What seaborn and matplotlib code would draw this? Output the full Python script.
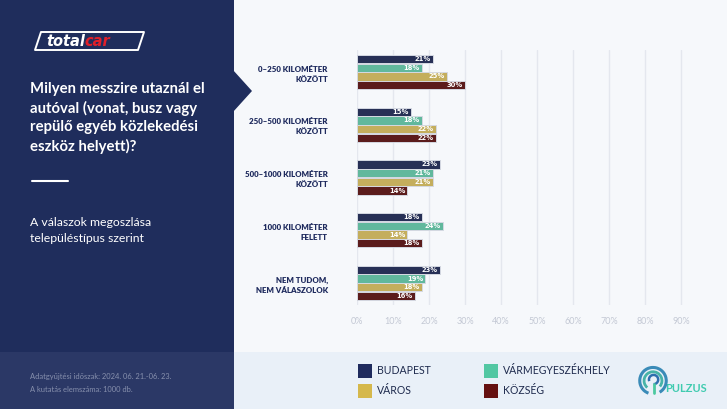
import matplotlib
matplotlib.use("Agg")
import matplotlib.pyplot as plt
import seaborn as sns
import pandas as pd
from matplotlib.patches import Rectangle, Polygon, Arc

# ---------------- data ----------------
categories = ["0–250 KILOMÉTER\nKÖZÖTT", "250–500 KILOMÉTER\nKÖZÖTT",
              "500–1000 KILOMÉTER\nKÖZÖTT", "1000 KILOMÉTER\nFELETT",
              "NEM TUDOM,\nNEM VÁLASZOLOK"]
series = ["BUDAPEST", "VÁRMEGYESZÉKHELY", "VÁROS", "KÖZSÉG"]
budapest = [21, 15, 23, 18, 23]
varmegye = [18, 18, 21, 24, 19]
varos = [25, 22, 21, 14, 18]
kozseg = [30, 22, 14, 18, 16]
xticks = [0, 10, 20, 30, 40, 50, 60, 70, 80, 90]
colors = ["#1f2b5e", "#52c7a3", "#d5b84c", "#661111"]

rows = []
for s, vals in zip(series, [budapest, varmegye, varos, kozseg]):
    for c, v in zip(categories, vals):
        rows.append({"cat": c, "series": s, "value": v})
df = pd.DataFrame(rows)

sns.set_theme(style="white")
plt.rcParams["font.family"] = ["Lato", "DejaVu Sans"]

W, H = 727, 409
fig = plt.figure(figsize=(W / 100, H / 100), dpi=100)
fig.patch.set_facecolor("#f6f8fb")

bg = fig.add_axes([0, 0, 1, 1], zorder=-1)
bg.set_xlim(0, W)
bg.set_ylim(H, 0)
bg.axis("off")

navy = "#1f2d5c"
bg.add_patch(Rectangle((234, 352), W - 234, H - 352, color="#e9f0f8", lw=0))
bg.add_patch(Rectangle((0, 0), 234, H, color=navy, lw=0))
bg.add_patch(Polygon([(233, 70), (252, 91), (233, 112)], closed=True, color=navy, lw=0))
bg.add_patch(Rectangle((0, 352), 234, H - 352, color="#2b3866", lw=0))

# totalcar logo
bg.add_patch(Polygon([(41, 32), (144, 32), (138, 50), (35, 50)], closed=True,
                     fill=False, ec="white", lw=1.4, joinstyle="round"))
t_total = bg.text(46, 41.5, "total", color="white", fontsize=10.5, fontstyle="italic",
                  fontweight="bold", va="center", ha="left", family=["DejaVu Sans"])
bg.annotate("car", xy=(1, 0.5), xycoords=t_total, color="#e0202a", fontsize=10.5,
            fontstyle="italic", fontweight="bold", va="center", ha="left",
            family=["DejaVu Sans"])

title_lines = ["Milyen messzire utaznál el", "autóval (vonat, busz vagy",
               "repülő egyéb közlekedési", "eszköz helyett)?"]
for i, t in enumerate(title_lines):
    bg.text(30, 89 + i * 19.2, t, color="white", fontsize=10.7, fontweight="bold",
            va="center", ha="left")
bg.plot([32, 68], [181, 181], color="white", lw=1.5)
bg.text(30, 222, "A válaszok megoszlása", color="white", fontsize=8.8, va="center", ha="left")
bg.text(30, 239, "településtípus szerint", color="white", fontsize=8.8, va="center", ha="left")
bg.text(30, 376, "Adatgyűjtési időszak: 2024. 06. 21.-06. 23.", color="#8790ad",
        fontsize=5.4, va="center", ha="left")
bg.text(30, 389, "A kutatás elemszáma: 1000 db.", color="#8790ad",
        fontsize=5.4, va="center", ha="left")

# legend
leg_pos = [(358, 371), (484, 371), (358, 391), (484, 391)]
leg_order = ["BUDAPEST", "VÁRMEGYESZÉKHELY", "VÁROS", "KÖZSÉG"]
for (x, y), name in zip(leg_pos, leg_order):
    col = colors[series.index(name)]
    bg.add_patch(Rectangle((x, y - 7), 14, 14, color=col, lw=0))
    bg.text(x + 19, y, name, color="#1f2b4e", fontsize=7.6, va="center", ha="left")

# pulzus logo
lg = fig.add_axes([638 / W, 1 - 398 / H, 30 / W, 34 / H], zorder=2)
lg.set_xlim(-1.3, 1.3)
lg.set_ylim(-1.5, 1.45)
lg.set_aspect("equal")
lg.axis("off")
lg.add_patch(Arc((0, 0), 2.3, 2.3, theta1=-60, theta2=250, color="#3a8bb8", lw=2.2))
lg.add_patch(Arc((0, 0), 1.55, 1.55, theta1=-40, theta2=230, color="#47b3a8", lw=2.0))
lg.add_patch(Arc((0.05, 0.1), 0.8, 0.8, theta1=-90, theta2=200, color="#2e6fae", lw=1.8))
lg.plot([0.05, 0.05], [-0.3, -1.1], color="#4cc9a0", lw=2.0)
bg.text(665, 389, "PULZUS", color="#40cbb0", fontsize=8, fontweight="bold",
        va="center", ha="left")

# ---------------- main chart ----------------
ax = fig.add_axes([357 / W, 1 - 305 / H, 360 / W, 255 / H])
ax.set_facecolor("none")
sns.barplot(data=df, y="cat", x="value", hue="series", hue_order=series,
            palette=colors, orient="h", width=0.66, gap=0.06, ax=ax,
            edgecolor="#d5d9e2", linewidth=0.7, legend=False, errorbar=None)
ax.set_xlim(0, 100)
ax.set_ylim(4.42, -0.42)
ax.set_xticks(xticks)
ax.set_xticklabels([f"{t}%" for t in xticks], color="#c3c8d4", fontsize=6.5)
ax.set_xlabel("")
ax.set_ylabel("")
ax.grid(axis="x", color="#e4e7ee", lw=1)
ax.set_axisbelow(True)
for sp in ax.spines.values():
    sp.set_visible(False)
ax.tick_params(axis="x", length=0, pad=9)
ax.tick_params(axis="y", length=0, pad=21)
for lbl in ax.get_yticklabels():
    lbl.set_fontweight("heavy")
    lbl.set_fontsize(5.7)
    lbl.set_color("#1f2b5e")
    lbl.set_linespacing(1.5)

for cont in ax.containers:
    for bar in cont:
        w = bar.get_width()
        yc = bar.get_y() + bar.get_height() / 2
        ax.text(w - 0.6, yc, f"{w:.0f}%", color="white", fontsize=5.4,
                fontweight="bold", fontstretch="condensed", ha="right", va="center",
                family=["DejaVu Sans"])

fig.savefig("out.png", dpi=100, facecolor=fig.get_facecolor())
